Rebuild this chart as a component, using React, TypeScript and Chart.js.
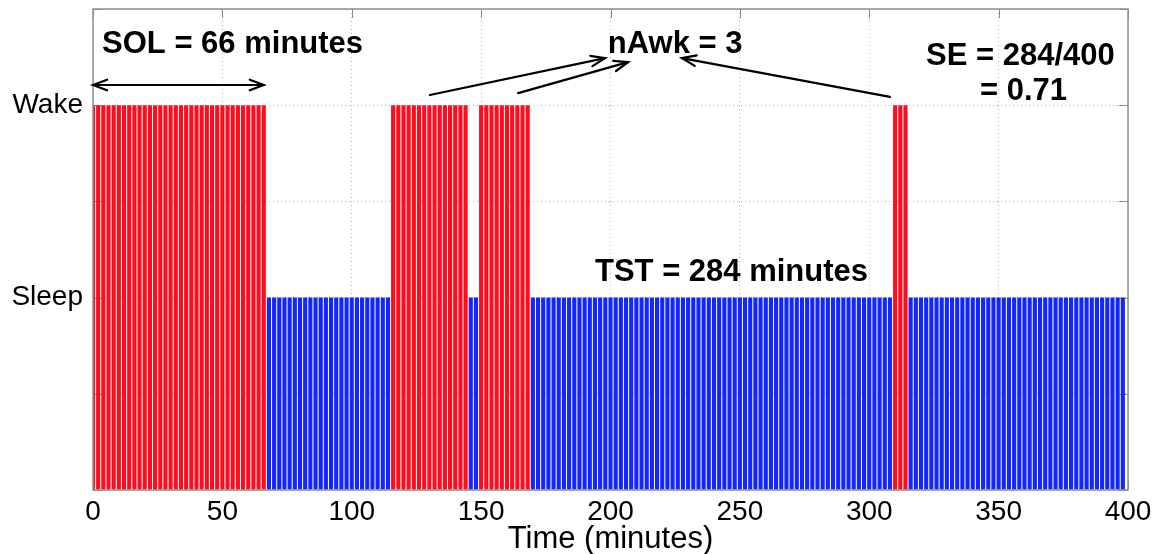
import React, { useEffect, useRef } from 'react';
import { Chart, registerables } from 'chart.js';

Chart.register(...registerables);

// Run-length reading of the hypnogram (2-minute epochs, centred on even minutes)
const segmentStart = [0, 68, 116, 146, 150, 170, 310, 316];
const segmentEnd = [66, 114, 144, 148, 168, 308, 314, 398];
const segmentState = ['Wake', 'Sleep', 'Wake', 'Sleep', 'Wake', 'Sleep', 'Wake', 'Sleep'];
const epochMinutes = 2;

const stateLevel: Record<string, number> = { Sleep: 1, Wake: 2 };
const stateColor: Record<string, string> = { Wake: '#ff0d1f', Sleep: '#1326ff' };

const xTickValues = [0, 50, 100, 150, 200, 250, 300, 350, 400];
const yTickLabels: Record<string, string> = { '1': 'Sleep', '2': 'Wake' };
const xAxisTitle = 'Time (minutes)';

// annotations: text, x, y (data units), alignment
const noteTexts = ['SOL = 66 minutes', 'nAwk = 3', 'SE = 284/400', '= 0.71', 'TST = 284 minutes'];
const noteX = [3.5, 225, 394.9, 342.8, 194];
const noteY = [2.27, 2.27, 2.209, 2.027, 1.086];
const noteAlign: CanvasTextAlign[] = ['left', 'center', 'right', 'left', 'left'];

// arrows: from (x0,y0) to (x1,y1), double-headed flag
const arrowX0 = [0, 130.2, 164.3, 308];
const arrowY0 = [2.105, 2.053, 2.063, 2.043];
const arrowX1 = [66, 197.9, 206.8, 227.6];
const arrowY1 = [2.105, 2.245, 2.224, 2.245];
const arrowDouble = [true, false, false, false];

function buildBars() {
  const pts: { x: number; y: number }[] = [];
  const cols: string[] = [];
  for (let s = 0; s < segmentStart.length; s++) {
    for (let m = segmentStart[s]; m <= segmentEnd[s]; m += epochMinutes) {
      pts.push({ x: m, y: stateLevel[segmentState[s]] });
      cols.push(stateColor[segmentState[s]]);
    }
  }
  return { pts, cols };
}

const FONT = '"Liberation Sans", Arial, Helvetica, sans-serif';

function drawHead(ctx: CanvasRenderingContext2D, x: number, y: number, ang: number) {
  const len = 15;
  const spread = 0.36;
  ctx.beginPath();
  ctx.moveTo(x - len * Math.cos(ang - spread), y - len * Math.sin(ang - spread));
  ctx.lineTo(x, y);
  ctx.lineTo(x - len * Math.cos(ang + spread), y - len * Math.sin(ang + spread));
  ctx.stroke();
}

const decorPlugin = {
  id: 'decor',
  beforeDatasetsDraw(chart: any) {
    const { ctx, chartArea: a, scales } = chart;
    ctx.save();
    ctx.strokeStyle = '#8a8a8a';
    ctx.lineWidth = 1;
    const tl = 9;
    xTickValues.forEach((v) => {
      const px = Math.round(scales.x.getPixelForValue(v)) + 0.5;
      ctx.beginPath();
      ctx.moveTo(px, a.top);
      ctx.lineTo(px, a.top + tl);
      ctx.moveTo(px, a.bottom);
      ctx.lineTo(px, a.bottom - tl);
      ctx.stroke();
    });
    [0, 0.5, 1, 1.5, 2, 2.5].forEach((v) => {
      const py = Math.round(scales.y.getPixelForValue(v)) + 0.5;
      ctx.beginPath();
      ctx.moveTo(a.left, py);
      ctx.lineTo(a.left + tl, py);
      ctx.moveTo(a.right, py);
      ctx.lineTo(a.right - tl, py);
      ctx.stroke();
    });
    ctx.restore();
  },
  afterDatasetsDraw(chart: any) {
    const { ctx, chartArea: a, scales } = chart;
    const xs = scales.x;
    const ys = scales.y;
    ctx.save();
    // frame
    ctx.strokeStyle = '#8f8f8f';
    ctx.lineWidth = 1.5;
    ctx.strokeRect(a.left, a.top, a.right - a.left, a.bottom - a.top);

    // annotation texts
    ctx.fillStyle = '#000';
    ctx.font = `bold 31px ${FONT}`;
    ctx.textBaseline = 'alphabetic';
    noteTexts.forEach((t, i) => {
      ctx.textAlign = noteAlign[i];
      ctx.fillText(t, xs.getPixelForValue(noteX[i]), ys.getPixelForValue(noteY[i]));
    });

    // arrows
    ctx.strokeStyle = '#000';
    ctx.lineWidth = 2.2;
    ctx.lineCap = 'round';
    for (let i = 0; i < arrowX0.length; i++) {
      const x0 = xs.getPixelForValue(arrowX0[i]);
      const y0 = ys.getPixelForValue(arrowY0[i]);
      const x1 = xs.getPixelForValue(arrowX1[i]);
      const y1 = ys.getPixelForValue(arrowY1[i]);
      ctx.beginPath();
      ctx.moveTo(x0, y0);
      ctx.lineTo(x1, y1);
      ctx.stroke();
      const ang = Math.atan2(y1 - y0, x1 - x0);
      drawHead(ctx, x1, y1, ang);
      if (arrowDouble[i]) drawHead(ctx, x0, y0, ang + Math.PI);
    }

    // x axis title
    ctx.font = `31px ${FONT}`;
    ctx.textAlign = 'center';
    ctx.textBaseline = 'alphabetic';
    ctx.fillText(xAxisTitle, (a.left + a.right) / 2, 548);
    ctx.restore();
  },
};

export default function App() {
  const ref = useRef<HTMLCanvasElement | null>(null);
  useEffect(() => {
    document.body.style.margin = '0';
    const { pts, cols } = buildBars();
    const chart = new Chart(ref.current as HTMLCanvasElement, {
      type: 'bar',
      data: {
        datasets: [
          {
            data: pts as any,
            backgroundColor: cols,
            borderWidth: 0,
            barPercentage: 0.8,
            categoryPercentage: 1,
          },
        ],
      },
      options: {
        animation: false,
        responsive: false,
        devicePixelRatio: 1,
        layout: { padding: { top: 9, right: 29, left: 0, bottom: 0 } },
        plugins: { legend: { display: false }, tooltip: { enabled: false } },
        scales: {
          x: {
            type: 'linear',
            min: 0,
            max: 400,
            offset: false,
            afterFit: (s: any) => {
              s.height = 64;
              s.paddingLeft = 0;
              s.paddingRight = 0;
            },
            afterBuildTicks: (s: any) => {
              s.ticks = xTickValues.map((v) => ({ value: v }));
            },
            ticks: {
              color: '#000',
              font: { family: FONT, size: 28 },
              padding: 5,
              maxRotation: 0,
              autoSkip: false,
            },
            grid: { color: '#b5b5b5', lineWidth: 1, drawTicks: false, offset: false },
            border: { display: false, dash: [1, 3] },
          },
          y: {
            min: 0,
            max: 2.5,
            afterFit: (s: any) => {
              s.width = 93;
              s.paddingTop = 0;
              s.paddingBottom = 0;
            },
            ticks: {
              stepSize: 0.5,
              color: '#000',
              font: { family: FONT, size: 28 },
              padding: 10,
              callback: (v: any) => yTickLabels[String(v)] ?? '',
            },
            grid: { color: '#b5b5b5', lineWidth: 1, drawTicks: false },
            border: { display: false, dash: [1, 3] },
          },
        },
      },
      plugins: [decorPlugin],
    } as any);
    return () => chart.destroy();
  }, []);
  return (
    <div style={{ position: 'absolute', left: 0, top: 0, width: 1157, height: 554, background: '#fff' }}>
      <canvas ref={ref} width={1157} height={554} />
    </div>
  );
}
